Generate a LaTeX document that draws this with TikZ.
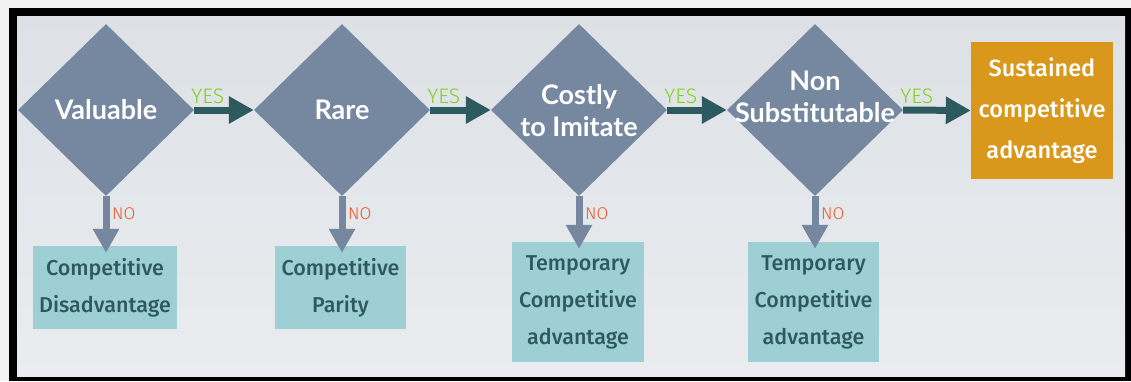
\documentclass[tikz,border=0pt]{standalone}
\usepackage{fontspec}
\setmainfont{Lato}
\newfontfamily\handfont{Fira Sans}[UprightFont={* Medium}]
\newfontfamily\notefont{Fira Sans}[UprightFont={* Light}]
\usetikzlibrary{shapes.geometric,arrows.meta,calc}

\definecolor{pagebg}{HTML}{F2F2F3}
\definecolor{paneltop}{HTML}{DDE1E6}
\definecolor{panelbot}{HTML}{EAECEF}
\definecolor{slate}{HTML}{7687A0}
\definecolor{deepteal}{HTML}{2D5A5E}
\definecolor{paleteal}{HTML}{9DCFD5}
\definecolor{boxink}{HTML}{2E5A5E}
\definecolor{amber}{HTML}{D9981C}
\definecolor{yesgreen}{HTML}{7FD21E}
\definecolor{nored}{HTML}{EF5420}

\tikzset{
  test/.style={diamond, fill=slate, inner sep=0pt,
    minimum width=176pt, minimum height=172pt},
  testtext/.style={text=white, font=\fontsize{27}{32}\selectfont\bfseries,
    align=center, inner sep=0pt},
  outcome/.style={rectangle, fill=paleteal, inner sep=0pt, text=boxink,
    font=\handfont\fontsize{21.5}{37}\selectfont, align=center},
  goal/.style={rectangle, fill=amber, inner sep=0pt, text=white,
    font=\handfont\fontsize{23.5}{41}\selectfont, align=center},
  yesarrow/.style={draw=deepteal, line width=7pt,
    -{Triangle[length=25pt,width=26pt]}},
  noarrow/.style={draw=slate, line width=7pt,
    -{Triangle[length=24pt,width=25pt]}},
  yeslabel/.style={text=yesgreen, font=\notefont\fontsize{21}{21}\selectfont,
    inner sep=0pt, anchor=base west},
  nolabel/.style={text=nored, font=\notefont\fontsize{17}{17}\selectfont,
    inner sep=0pt, anchor=base west},
}

\begin{document}
\begin{tikzpicture}[x=1pt,y=-1pt]
  \useasboundingbox (0,0) rectangle (1131,381);
  % page and framed panel
  \fill[pagebg] (0,0) rectangle (1131,381);
  \fill[black] (9,8) rectangle (1131,381);
  \shade[top color=paneltop, bottom color=panelbot] (17,16) rectangle (1125,376);

  % decision diamonds
  \node[test] (d1) at (106,110) {};
  \node[test] (d2) at (342,110) {};
  \node[test] (d3) at (579,110) {};
  \node[test] (d4) at (815,110) {};

  \node[testtext] (t1) at (d1) {Valuable};
  \node[testtext] (t2) at (d2) {Rare};
  \node[testtext] (t3) at ($(d3)+(0,1)$) {Costly\\to Imitate};
  \node[testtext] (t4) at ($(d4)+(0,-13)$) {Non\\Substitutable};

  % outcomes
  \node[outcome, minimum width=144pt, minimum height=83pt] (b1) at (105,287.5)
    {Competitive\\Disadvantage};
  \node[outcome, minimum width=131pt, minimum height=83pt] (b2) at (340.5,287.5)
    {Competitive\\Parity};
  \node[outcome, minimum width=132pt, minimum height=120pt] (b3) at (578,302)
    {Temporary\\Competitive\\advantage};
  \node[outcome, minimum width=131pt, minimum height=120pt] (b4) at (813.5,302)
    {Temporary\\Competitive\\advantage};
  \node[goal, minimum width=142pt, minimum height=137pt] (s) at (1042,110.5)
    {Sustained\\competitive\\advantage};

  % YES connectors
  \draw[yesarrow] (d1.east) -- (d2.west);
  \draw[yesarrow] (d2.east) -- (d3.west);
  \draw[yesarrow] (d3.east) -- (d4.west);
  \draw[yesarrow] (d4.east) -- (s.west);

  \node[yeslabel] (y1) at ($(d1.east)+(-3,-7)$) {YES};
  \node[yeslabel] (y2) at ($(d2.east)+(-3,-7)$) {YES};
  \node[yeslabel] (y3) at ($(d3.east)+(-3,-7)$) {YES};
  \node[yeslabel] (y4) at ($(d4.east)+(-3,-7)$) {YES};

  % NO connectors
  \draw[noarrow] (d1.south) -- ($(d1.south |- b1.north)+(0,7)$);
  \draw[noarrow] (d2.south) -- ($(d2.south |- b2.north)+(0,7)$);
  \draw[noarrow] (d3.south) -- ($(d3.south |- b3.north)+(0,7)$);
  \draw[noarrow] (d4.south) -- ($(d4.south |- b4.north)+(0,7)$);

  \node[nolabel] (n1) at ($(d1.south)+(6,23)$) {NO};
  \node[nolabel] (n2) at ($(d2.south)+(6,23)$) {NO};
  \node[nolabel] (n3) at ($(d3.south)+(6,23)$) {NO};
  \node[nolabel] (n4) at ($(d4.south)+(6,23)$) {NO};
\end{tikzpicture}
\end{document}
